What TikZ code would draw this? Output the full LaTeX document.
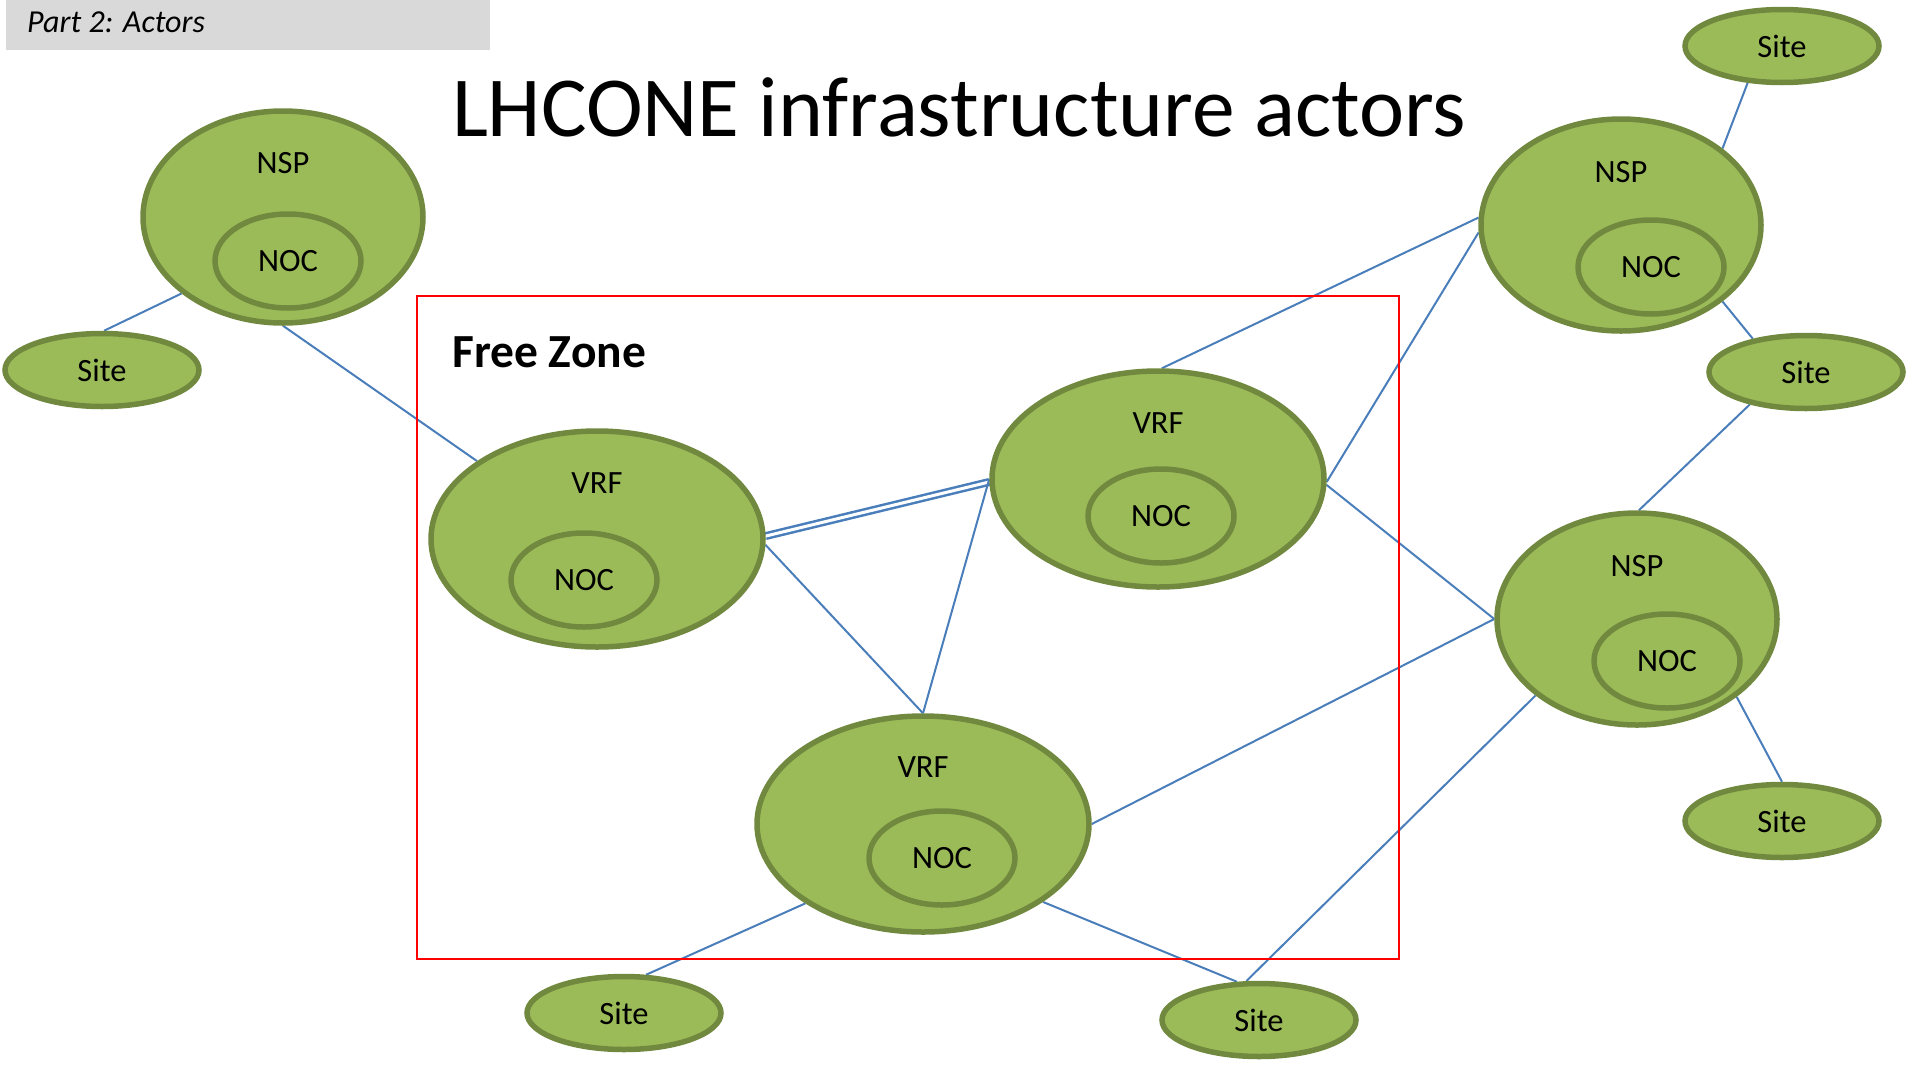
\documentclass[tikz,border=0pt]{standalone}
\usepackage{fontspec}
\setmainfont{Carlito}
\usepackage{tikz}
\usetikzlibrary{shapes.geometric, backgrounds}

\definecolor{leaf}{HTML}{9BBB59}
\definecolor{leafdark}{HTML}{71893F}
\definecolor{linkblue}{HTML}{4A7EBB}
\definecolor{bannergray}{HTML}{D9D9D9}

\begin{document}
\begin{tikzpicture}[
    x=1pt, y=-1pt,
    blob/.style={ellipse, draw=leafdark, fill=leaf, line width=5.5pt, inner sep=0pt, font=\fontsize{32.5}{38}\selectfont},
    nsp/.style={blob, minimum width=280pt, minimum height=212pt},
    vrf/.style={blob, minimum width=332pt, minimum height=216pt},
    noc/.style={blob, minimum width=146pt, minimum height=94pt},
    site/.style={blob, minimum width=194pt, minimum height=73pt},
    tag/.style={font=\fontsize{32.5}{38}\selectfont, inner sep=0pt},
    link/.style={draw=linkblue, line width=2pt}
    ]
    \useasboundingbox (0,0) rectangle (1911,1066);

    % Header
    \fill [bannergray] (6,0) rectangle (490,50);
    \node (part) [anchor=west, inner sep=0pt, font=\fontsize{32}{38}\selectfont\itshape] at (27,22) {Part 2: Actors};
    \node (title) [font=\fontsize{85.5}{100}\selectfont] at (959,107) {LHCONE infrastructure actors};

    % Free zone
    \draw [red, line width=2.2pt] (417,296) rectangle (1399,959);
    \node (freezone) [anchor=west, inner sep=0pt, font=\fontsize{47.5}{56}\selectfont\bfseries] at (452,352) {Free Zone};

    % NSPs
    \node (nsp1) [nsp] at (283,217) {};
    \node (nsp1-l) [tag] at (283,163) {NSP};
    \node (noc1) [noc] at (288,261) {NOC};
    \node (nsp2) [nsp] at (1621,225) {};
    \node (nsp2-l) [tag] at (1621,172) {NSP};
    \node (noc2) [noc] at (1651,267) {NOC};
    \node (nsp3) [nsp] at (1637,619) {};
    \node (nsp3-l) [tag] at (1637,566) {NSP};
    \node (noc3) [noc] at (1667,661) {NOC};

    % VRFs
    \node (vrf1) [vrf] at (597,539) {};
    \node (vrf1-l) [tag] at (597,483) {VRF};
    \node (noc4) [noc] at (584,580) {NOC};
    \node (vrf2) [vrf] at (1158,479) {};
    \node (vrf2-l) [tag] at (1158,423) {VRF};
    \node (noc5) [noc] at (1161,516) {NOC};
    \node (vrf3) [vrf] at (923,824) {};
    \node (vrf3-l) [tag] at (923,767) {VRF};
    \node (noc6) [noc] at (942,858) {NOC};

    % Sites
    \node (site1) [site] at (102,370) {Site};
    \node (site2) [site] at (1782,46) {Site};
    \node (site3) [site] at (1806,372) {Site};
    \node (site4) [site] at (1782,821) {Site};
    \node (site5) [site] at (624,1013) {Site};
    \node (site6) [site] at (1259,1020) {Site};

    % Links
    \begin{scope}[on background layer]
    \draw [link] (site1.87) -- (nsp1.217);
    \draw [link] (nsp1.270) -- (vrf1.147);
    \draw [link, line width=2.5pt, double=white, double distance=3pt] (vrf1.1) -- (vrf2.181);
    \draw [link] (vrf1.358) -- (vrf3.90);
    \draw [link] (vrf3.90) -- (vrf2.180);
    \draw [link] (vrf2.88) -- (nsp2.177);
    \draw [link] (vrf2.359) -- (nsp2.183);
    \draw [link] (vrf2.358) -- (nsp3.180);
    \draw [link] (vrf3.0) -- (nsp3.180);
    \draw [link] (nsp2.37) -- (site2.227);
    \draw [link] (nsp2.323) -- (site3.148);
    \draw [link] (site3.210) -- (nsp3.89);
    \draw [link] (nsp3.322) -- (site4.90);
    \draw [link] (vrf3.214) -- (site5.60);
    \draw [link] (vrf3.327) -- (site6.120);
    \draw [link] (site6.108) -- (nsp3.217);
    \end{scope}
\end{tikzpicture}
\end{document}
